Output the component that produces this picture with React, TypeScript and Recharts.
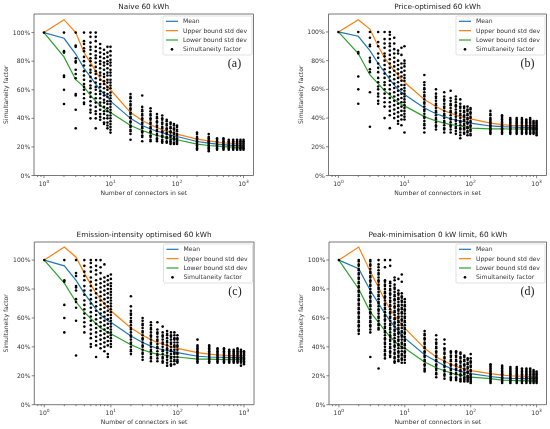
import { ComposedChart, Line, Scatter, XAxis, YAxis, ReferenceArea } from 'recharts';

// number of connectors in each sampled set (log x axis)
const connectors = [1, 2, 3, 4, 5, 6, 7, 8, 9, 10, 20, 30, 40, 50, 60, 70, 80, 90, 100, 200, 300, 400, 500, 600, 700, 800, 900, 1000];
const xTicks = [0.8, 0.9, 1, 2, 3, 4, 5, 6, 7, 8, 9, 10, 20, 30, 40, 50, 60, 70, 80, 90, 100, 200, 300, 400, 500, 600, 700, 800, 900, 1000];
const yTicks = [0, 20, 40, 60, 80, 100];

// (a) Naive 60 kWh
const naiveMean = [100, 96, 85, 75, 69, 64, 60, 57, 55, 52, 40, 35, 32.5, 31, 30, 29, 28.3, 27.8, 27.3, 23.8, 22.7, 22, 21.6, 21.3, 21.1, 20.9, 20.8, 20.6];
const naiveUpper = [100, 109, 100, 86, 79, 73, 68, 65, 62, 60, 44, 38.5, 35.5, 33.5, 32, 31, 30.2, 29.5, 29, 25.5, 24.2, 23.4, 22.9, 22.6, 22.4, 22.2, 22.1, 22];
const naiveLower = [100, 83, 67, 62, 56, 52, 49, 47, 45, 44, 35, 31.5, 29.5, 28, 27.2, 26.6, 26, 25.5, 25, 22, 21, 20.5, 20.2, 20, 19.8, 19.7, 19.6, 19.5];
const naivePoints = [
  [100],
  [100, 87, 86, 70, 69, 60, 50],
  [100, 91, 90, 82, 80, 79, 74, 71, 68, 57, 56, 46, 33],
  [100, 94, 92, 89, 87, 83, 80, 77, 73, 70, 67, 64, 62, 60, 57, 54, 51, 50],
  [100, 97, 93, 90, 88, 85, 82, 80, 77, 74, 72, 69, 66, 63, 61, 58, 55, 52, 49, 46, 44, 40],
  [100, 97, 94, 90, 87, 84, 82, 79, 76, 73, 71, 68, 65, 62, 60, 57, 54, 51, 48, 45, 43, 40, 33],
  [92, 89, 86, 83, 80, 78, 75, 72, 70, 67, 64, 62, 59, 57, 54, 51, 49, 46, 43, 41, 39],
  [88, 85, 82, 79, 77, 74, 71, 69, 66, 64, 61, 58, 56, 53, 51, 48, 45, 43, 40, 37, 36],
  [90, 86, 83, 80, 78, 75, 72, 70, 67, 65, 62, 60, 57, 55, 52, 50, 47, 45, 42, 40, 37, 35, 33],
  [90, 87, 84, 81, 79, 77, 74, 72, 70, 67, 65, 63, 61, 58, 56, 54, 52, 50, 48, 46, 44, 42, 40, 38, 36, 34, 32, 30],
  [57, 55, 54, 52, 50, 49, 47, 46, 44, 43, 41, 40, 38, 37, 35, 34, 32, 31, 29, 25],
  [56, 48, 46, 45, 43, 42, 40, 39, 37, 36, 34, 33, 31, 30, 28, 27, 24],
  [47, 45, 43, 42, 40, 39, 37, 36, 34, 33, 31, 30, 28, 27, 25, 24],
  [43, 41, 40, 38, 37, 35, 34, 32, 31, 29, 28, 26, 25, 24],
  [42, 40, 39, 37, 36, 34, 33, 31, 30, 28, 27, 25, 24, 23],
  [39, 38, 36, 35, 33, 32, 30, 29, 27, 26, 24, 23],
  [37, 36, 34, 33, 31, 30, 28, 27, 25, 24, 23, 22],
  [36, 35, 33, 32, 30, 29, 27, 26, 25, 23, 22],
  [35, 34, 32, 31, 29, 28, 26, 25, 24, 23, 22],
  [30, 29, 27, 26, 25, 24, 23, 22, 21, 20, 19, 18],
  [29, 27, 26, 25, 24, 23, 22, 21, 20, 19, 18, 17],
  [26, 25, 24, 23, 22, 21, 20, 19, 18],
  [26, 25, 24, 23, 22, 21, 20, 19, 18],
  [25, 24, 23, 22, 21, 20, 19, 18],
  [25, 24, 23, 22, 21, 20, 19, 18],
  [25, 24, 23, 22, 21, 20, 19, 18],
  [25, 24, 23, 22, 21, 20, 19, 18],
  [25, 24, 23, 22, 21, 20, 19, 18],
];

// (b) Price-optimised 60 kWh
const priceMean = [100, 97, 87, 78, 72, 67, 63, 60, 58, 56.5, 47, 43, 41, 39.5, 38.5, 38, 37.5, 37, 36.5, 34.5, 34, 33.8, 33.6, 33.5, 33.5, 33.4, 33.4, 33.3];
const priceUpper = [100, 108.5, 102, 90, 82, 77, 73, 70, 67, 65, 53, 48, 45, 43.5, 42, 41, 40.5, 40, 39.5, 36.5, 35.5, 35, 34.8, 34.7, 34.6, 34.5, 34.5, 34.5];
const priceLower = [100, 85, 70, 64, 59, 56, 53, 51, 49.5, 48.5, 41, 38, 36.5, 35.5, 35, 34.5, 34, 33.5, 33, 32.5, 32.5, 32.4, 32.4, 32.4, 32.3, 32.3, 32.3, 32.3];
const pricePoints = [
  [100],
  [100, 86, 85, 69, 60, 50],
  [100, 96, 91, 90, 82, 80, 79, 74, 72, 58, 34],
  [100, 93, 90, 85, 82, 78, 75, 72, 68, 65, 62, 60, 57, 55, 52, 50],
  [100, 95, 92, 89, 85, 83, 80, 77, 74, 71, 68, 65, 63, 60, 57, 54, 51, 48, 40],
  [100, 98, 95, 92, 90, 87, 84, 81, 78, 75, 72, 69, 66, 63, 60, 57, 54, 51, 48, 45, 42, 33],
  [96, 92, 88, 85, 82, 79, 76, 73, 70, 67, 64, 61, 58, 55, 52, 49, 46, 43, 40],
  [87, 85, 80, 77, 74, 71, 68, 65, 62, 59, 56, 53, 50, 47, 44, 41, 38, 36],
  [89, 84, 78, 75, 72, 69, 66, 63, 60, 57, 54, 51, 48, 45, 42, 39, 35],
  [90, 80, 78, 76, 73, 70, 68, 66, 63, 61, 59, 57, 55, 53, 51, 49, 47, 45, 43, 41, 39, 30],
  [70, 65, 63, 61, 60, 58, 56, 55, 53, 51, 50, 48, 46, 45, 43, 41, 40, 38, 36, 35, 33, 30],
  [60, 57, 55, 54, 52, 50, 49, 47, 45, 44, 42, 40, 39, 37, 35, 34, 32],
  [58, 55, 53, 52, 50, 48, 47, 45, 43, 42, 40, 38, 37, 35, 33, 32, 30],
  [59, 54, 52, 50, 49, 47, 45, 44, 42, 40, 39, 37, 35, 34, 32, 30],
  [55, 53, 51, 49, 48, 46, 44, 43, 41, 39, 38, 36, 34, 33, 31, 29],
  [53, 50, 48, 47, 45, 43, 42, 40, 38, 37, 35, 33, 32, 30, 28, 26],
  [48, 47, 45, 44, 42, 41, 39, 38, 36, 35, 33, 32, 30, 29],
  [48, 46, 45, 43, 42, 40, 39, 37, 36, 34, 33, 31, 30, 28],
  [47, 46, 44, 43, 41, 40, 38, 37, 35, 34, 32, 31, 29, 28],
  [45, 43, 42, 40, 39, 38, 37, 36, 35, 34, 33, 32, 31, 30, 29],
  [42, 41, 40, 39, 38, 37, 36, 35, 34, 33, 32, 31, 30, 29],
  [40, 39, 38, 37, 36, 35, 34, 33, 32, 31, 30, 29],
  [40, 39, 38, 37, 36, 35, 34, 33, 32, 31, 30, 29],
  [40, 39, 38, 37, 36, 35, 34, 33, 32, 31, 30, 29],
  [39, 38, 37, 36, 35, 34, 33, 32, 31, 30, 29],
  [40, 39, 38, 37, 36, 35, 34, 33, 32, 31, 30, 29],
  [38, 37, 36, 35, 34, 33, 32, 31, 30, 29],
  [38, 37, 36, 35, 34, 33, 32, 31, 30, 29, 28],
];

// (c) Emission-intensity optimised 60 kWh
const emissionMean = [100, 96, 86, 77, 71, 66, 62, 60, 58, 57, 47.5, 43, 40.5, 39, 38, 37.5, 37, 36.5, 36, 33.5, 33, 32.8, 32.7, 32.6, 32.5, 32.5, 32.5, 32.4];
const emissionUpper = [100, 109, 102, 91, 83, 77, 73, 70, 67, 65, 53, 48, 45, 43, 42, 41, 40, 39.5, 39, 36, 35, 34.5, 34.2, 34, 33.9, 33.8, 33.7, 33.6];
const emissionLower = [100, 84, 71, 64, 59.5, 56, 53, 51.5, 50, 49, 41.5, 38, 36, 35, 34.5, 34, 33.5, 33, 33, 31.5, 31.5, 31.3, 31.2, 31.2, 31.1, 31.1, 31, 31];
const emissionPoints = [
  [100],
  [100, 86, 85, 69, 60, 50],
  [100, 91, 89, 82, 81, 79, 73, 71, 67, 58, 34],
  [100, 96, 92, 89, 86, 82, 79, 76, 72, 69, 66, 63, 60, 57, 54, 50],
  [100, 98, 95, 92, 88, 85, 82, 79, 76, 73, 70, 67, 64, 61, 58, 55, 52, 49, 46, 42, 40],
  [100, 96, 93, 90, 86, 83, 80, 77, 74, 71, 68, 65, 62, 59, 56, 53, 50, 47, 44, 41, 33],
  [100, 95, 91, 87, 84, 81, 78, 75, 72, 69, 66, 63, 60, 57, 54, 51, 48, 45, 42, 39],
  [97, 88, 85, 82, 79, 76, 73, 70, 67, 64, 61, 58, 55, 52, 49, 46, 43, 40, 37],
  [89, 86, 83, 80, 77, 74, 71, 68, 65, 62, 59, 56, 53, 50, 47, 44, 41, 35, 33],
  [90, 87, 84, 82, 80, 78, 76, 74, 72, 70, 68, 66, 64, 62, 60, 58, 56, 54, 52, 50, 48, 46, 44, 42, 40],
  [75, 68, 65, 63, 62, 60, 58, 57, 55, 53, 52, 50, 48, 47, 45, 43, 42, 40, 38, 37, 35],
  [60, 58, 56, 55, 53, 51, 50, 48, 46, 45, 43, 41, 40, 38, 36, 35, 33, 31],
  [57, 55, 53, 52, 50, 48, 47, 45, 43, 42, 40, 38, 37, 35, 33, 32, 30],
  [57, 52, 50, 49, 47, 45, 44, 42, 40, 39, 37, 35, 34, 32, 30],
  [54, 50, 48, 47, 45, 43, 42, 40, 38, 37, 35, 33, 32, 30, 29],
  [51, 49, 48, 46, 44, 43, 41, 39, 38, 36, 34, 33, 31, 29, 27],
  [50, 48, 47, 45, 43, 42, 40, 38, 37, 35, 33, 32, 30, 28, 27],
  [50, 48, 46, 45, 43, 41, 40, 38, 36, 35, 33, 31, 30, 28],
  [48, 46, 45, 43, 41, 40, 38, 36, 35, 33, 31, 30, 29],
  [45, 41, 40, 39, 38, 37, 36, 35, 34, 33, 32, 31, 30, 29],
  [41, 40, 39, 38, 37, 36, 35, 34, 33, 32, 31, 30, 29],
  [39, 38, 37, 36, 35, 34, 33, 32, 31, 30, 29],
  [39, 38, 37, 36, 35, 34, 33, 32, 31, 30, 29],
  [38, 37, 36, 35, 34, 33, 32, 31, 30, 29],
  [38, 37, 36, 35, 34, 33, 32, 31, 30, 29],
  [39, 38, 37, 36, 35, 34, 33, 32, 31, 30, 29],
  [38, 37, 36, 35, 34, 33, 32, 31, 30, 29, 27],
  [37, 36, 35, 34, 33, 32, 31, 30, 29, 28],
];

// (d) Peak-minimisation 0 kW limit, 60 kWh
const peakMean = [100, 94, 79, 70, 63, 58, 54, 51, 48, 46, 34.5, 30, 27, 25, 24, 23, 22.5, 22, 21.5, 19.5, 18.5, 18.2, 18.1, 18, 18, 18, 18, 18];
const peakUpper = [100, 109, 92, 81, 72, 66, 62, 58, 55.5, 53, 39, 33, 30, 28, 26.5, 25.5, 24.5, 24, 23.5, 21.5, 20.5, 20, 19.8, 19.7, 19.6, 19.5, 19.5, 19.5];
const peakLower = [100, 80, 64, 57, 51, 47, 44, 41.5, 40, 39, 29.5, 25.5, 23.5, 22, 21, 20.5, 20, 19.5, 19, 18, 17, 16.8, 16.7, 16.6, 16.6, 16.5, 16.5, 16.5];
const peakPoints = [
  [100],
  [100, 99, 97, 96, 94, 93, 91, 90, 88, 87, 85, 84, 82, 81, 79, 78, 76, 75, 73, 72, 70, 69, 67, 66, 64, 63, 61, 60, 58, 57, 55, 54, 52, 51, 49],
  [100, 99, 97, 96, 94, 92, 91, 89, 88, 86, 85, 83, 82, 80, 78, 77, 75, 74, 72, 71, 69, 68, 66, 64, 63, 61, 60, 58, 57, 55, 54, 52, 50, 33],
  [100, 97, 95, 93, 91, 90, 88, 86, 85, 83, 81, 80, 78, 76, 75, 73, 71, 70, 68, 66, 65, 63, 61, 60, 58, 56, 55, 53, 52, 25],
  [100, 95, 86, 85, 83, 82, 80, 78, 77, 75, 74, 72, 70, 69, 67, 66, 64, 62, 61, 59, 58, 56, 54, 53, 51, 50, 48, 46, 45, 43, 42, 40, 38, 37, 35, 34, 32],
  [100, 96, 85, 84, 82, 80, 79, 77, 76, 74, 72, 71, 69, 68, 66, 64, 63, 61, 60, 58, 56, 55, 53, 52, 50, 48, 47, 45, 44, 42, 40, 39, 37, 36, 34, 33],
  [88, 86, 83, 81, 80, 78, 76, 75, 73, 72, 70, 68, 67, 65, 64, 62, 60, 59, 57, 56, 54, 52, 51, 49, 48, 46, 44, 43, 41, 40, 38, 36, 35, 33, 32, 30, 29],
  [87, 79, 77, 76, 74, 73, 71, 69, 68, 66, 65, 63, 61, 60, 58, 57, 55, 53, 52, 50, 49, 47, 45, 44, 42, 41, 39, 37, 36, 34, 33, 31, 30],
  [90, 85, 77, 75, 74, 72, 71, 69, 67, 66, 64, 63, 61, 59, 58, 56, 55, 53, 51, 50, 48, 47, 45, 43, 42, 40, 39, 37, 35, 34, 32, 31, 29],
  [73, 71, 69, 68, 66, 65, 63, 61, 60, 58, 57, 55, 53, 52, 50, 49, 47, 45, 44, 42, 41, 39, 37, 36, 34, 33, 31, 29],
  [51, 49, 48, 46, 45, 43, 42, 40, 39, 37, 36, 34, 33, 31, 30, 28, 27, 25, 24, 23],
  [48, 45, 43, 42, 40, 39, 37, 36, 34, 33, 31, 30, 28, 27, 25, 24, 22, 21, 19],
  [45, 42, 39, 38, 36, 35, 33, 32, 30, 29, 27, 26, 24, 23, 21, 20, 18],
  [37, 36, 34, 33, 31, 30, 28, 27, 25, 24, 22, 21, 19, 18, 17],
  [37, 36, 34, 33, 31, 30, 28, 27, 25, 24, 22, 21, 19, 18, 17],
  [36, 35, 33, 32, 30, 29, 27, 26, 24, 23, 21, 20, 18, 17, 16],
  [34, 33, 31, 30, 28, 27, 25, 24, 22, 21, 19, 18, 17, 16],
  [32, 31, 29, 28, 26, 25, 23, 22, 20, 19, 18, 17, 16],
  [35, 32, 30, 29, 27, 26, 24, 23, 21, 20, 19, 18, 17, 16, 15],
  [28, 27, 26, 25, 24, 23, 22, 21, 20, 19, 18, 17, 16, 15],
  [27, 26, 25, 24, 23, 22, 21, 20, 19, 18, 17, 16, 15],
  [26, 25, 24, 23, 22, 21, 20, 19, 18, 17, 16, 15],
  [26, 25, 24, 23, 22, 21, 20, 19, 18, 17, 16, 15],
  [25, 24, 23, 22, 21, 20, 19, 18, 17, 16, 15],
  [25, 24, 23, 22, 21, 20, 19, 18, 17, 16, 15],
  [25, 24, 23, 22, 21, 20, 19, 18, 17, 16, 15],
  [24, 23, 22, 21, 20, 19, 18, 17, 16, 15],
  [23, 22, 21, 20, 19, 18, 17, 16, 15],
];

const FONT = '"DejaVu Sans", sans-serif';
const X_DOMAIN = [0.708, 1413];
const BLUE = '#1f77b4';
const ORANGE = '#ff7f0e';
const GREEN = '#2ca02c';
const INK = '#333';

const toRows = (mean: number[], upper: number[], lower: number[]) =>
  connectors.map((x, i) => ({ x, mean: mean[i], upper: upper[i], lower: lower[i] }));

const toPoints = (cols: number[][]) =>
  connectors.flatMap((x, i) => cols[i].map((y) => ({ x, y })));

const XTick = (props: any) => {
  const { x, y, payload } = props;
  const lg = Math.log10(payload.value);
  const exp = Math.round(lg);
  const major = Math.abs(lg - exp) < 1e-6;
  return (
    <g>
      <line x1={x} x2={x} y1={y} y2={y + (major ? 2.6 : 1.5)} stroke={INK} strokeWidth={0.6} />
      {major && (
        <text x={x} y={y + 10} textAnchor="middle" fontSize={6.1} fill={INK} fontFamily={FONT}>
          10
          <tspan dy={-2.6} fontSize={4.4}>
            {exp}
          </tspan>
        </text>
      )}
    </g>
  );
};

const YTick = (props: any) => {
  const { x, y, payload } = props;
  return (
    <g>
      <line x1={x} x2={x - 2.6} y1={y} y2={y} stroke={INK} strokeWidth={0.6} />
      <text x={x - 3.8} y={y + 2.1} textAnchor="end" fontSize={6.1} fill={INK} fontFamily={FONT}>
        {payload.value}%
      </text>
    </g>
  );
};

const legendItems = [
  { label: 'Mean', color: BLUE },
  { label: 'Upper bound std dev', color: ORANGE },
  { label: 'Lower bound std dev', color: GREEN },
  { label: 'Simultaneity factor', color: null },
];

type Panel = {
  title: string;
  letter: string;
  mean: number[];
  upper: number[];
  lower: number[];
  points: number[][];
  cell: { x: number; y: number; w: number; h: number };
  plot: { l: number; t: number; r: number; b: number };
  yMax: number;
};

function SimultaneityPanel({ p }: { p: Panel }) {
  const { cell, plot } = p;
  const rows = toRows(p.mean, p.upper, p.lower);
  const pts = toPoints(p.points);
  const pl = plot.l - cell.x;
  const pt = plot.t - cell.y;
  const pr = plot.r - cell.x;
  const pb = plot.b - cell.y;
  const cx = (pl + pr) / 2;
  const cy = (pt + pb) / 2;
  const lx = pr - 90.5;
  const ly = pt + 2;
  return (
    <div style={{ position: 'absolute', left: cell.x, top: cell.y, width: cell.w, height: cell.h }}>
      <ComposedChart
        width={cell.w}
        height={cell.h}
        data={rows}
        margin={{ top: pt, right: cell.w - pr, left: 0, bottom: 0 }}
        style={{ willChange: 'transform' }}
      >
        <XAxis
          dataKey="x"
          type="number"
          scale="log"
          domain={X_DOMAIN}
          allowDataOverflow
          ticks={xTicks}
          interval={0}
          tick={<XTick />}
          tickLine={false}
          axisLine={false}
          tickSize={0}
          tickMargin={0}
          height={cell.h - pb}
        />
        <YAxis
          type="number"
          domain={[0, p.yMax]}
          allowDataOverflow
          ticks={yTicks}
          interval={0}
          tick={<YTick />}
          tickLine={false}
          axisLine={false}
          tickSize={0}
          tickMargin={0}
          width={pl}
        />
        <Scatter
          data={pts}
          dataKey="y"
          isAnimationActive={false}
          shape={(s: any) => <circle cx={s.cx} cy={s.cy} r={1.3} fill="#000" />}
        />
        <Line dataKey="mean" stroke={BLUE} strokeWidth={1.2} dot={false} isAnimationActive={false} />
        <Line dataKey="upper" stroke={ORANGE} strokeWidth={1.2} dot={false} isAnimationActive={false} />
        <Line dataKey="lower" stroke={GREEN} strokeWidth={1.2} dot={false} isAnimationActive={false} />
        <ReferenceArea
          x1={X_DOMAIN[0]}
          x2={X_DOMAIN[1]}
          y1={0}
          y2={p.yMax}
          fill="none"
          stroke="#555"
          strokeWidth={0.8}
          ifOverflow="visible"
        />
      </ComposedChart>
      <svg
        width={cell.w}
        height={cell.h}
        style={{ position: 'absolute', left: 0, top: 0, pointerEvents: 'none', willChange: 'transform' }}
      >
        <text x={cx} y={pt - 5} textAnchor="middle" fontSize={7.3} fill="#222" fontFamily={FONT}>
          {p.title}
        </text>
        <text x={cx} y={pb + 19} textAnchor="middle" fontSize={6.1} fill={INK} fontFamily={FONT}>
          Number of connectors in set
        </text>
        <text
          x={0}
          y={0}
          transform={`translate(${pl - 26}, ${cy}) rotate(-90)`}
          textAnchor="middle"
          fontSize={6.1}
          fill={INK}
          fontFamily={FONT}
        >
          Simultaneity factor
        </text>
        <text x={pr - 19} y={pt + 53} textAnchor="middle" fontSize={12} fill="#222" fontFamily='"Liberation Serif", serif'>
          {p.letter}
        </text>
        <rect x={lx} y={ly} width={89} height={39} rx={1.5} fill="#fff" fillOpacity={0.85} stroke="#ccc" strokeWidth={0.6} />
        {legendItems.map((it, i) => {
          const ry = ly + 5.3 + i * 9.35;
          return (
            <g key={it.label}>
              {it.color ? (
                <line x1={lx + 3} x2={lx + 15} y1={ry} y2={ry} stroke={it.color} strokeWidth={1.2} />
              ) : (
                <circle cx={lx + 9} cy={ry} r={1.3} fill="#000" />
              )}
              <text x={lx + 20} y={ry + 2.1} fontSize={6.1} fill={INK} fontFamily={FONT}>
                {it.label}
              </text>
            </g>
          );
        })}
      </svg>
    </div>
  );
}

const panels: Panel[] = [
  {
    title: 'Naive 60 kWh',
    letter: '(a)',
    mean: naiveMean,
    upper: naiveUpper,
    lower: naiveLower,
    points: naivePoints,
    cell: { x: 0, y: 0, w: 275, h: 214 },
    plot: { l: 34, t: 14, r: 253.5, b: 175.5 },
    yMax: 113,
  },
  {
    title: 'Price-optimised 60 kWh',
    letter: '(b)',
    mean: priceMean,
    upper: priceUpper,
    lower: priceLower,
    points: pricePoints,
    cell: { x: 275, y: 0, w: 275, h: 214 },
    plot: { l: 328.5, t: 14, r: 546.5, b: 175.5 },
    yMax: 112.5,
  },
  {
    title: 'Emission-intensity optimised 60 kWh',
    letter: '(c)',
    mean: emissionMean,
    upper: emissionUpper,
    lower: emissionLower,
    points: emissionPoints,
    cell: { x: 0, y: 214, w: 275, h: 215 },
    plot: { l: 34.3, t: 242, r: 254, b: 404.7 },
    yMax: 112.5,
  },
  {
    title: 'Peak-minimisation 0 kW limit, 60 kWh',
    letter: '(d)',
    mean: peakMean,
    upper: peakUpper,
    lower: peakLower,
    points: peakPoints,
    cell: { x: 275, y: 214, w: 275, h: 215 },
    plot: { l: 329, t: 242, r: 546.5, b: 404.7 },
    yMax: 112.5,
  },
];

export default function App() {
  return (
    <div style={{ position: 'absolute', left: 0, top: 0, width: 550, height: 429, background: '#fff' }}>
      {panels.map((p) => (
        <SimultaneityPanel key={p.letter} p={p} />
      ))}
    </div>
  );
}
